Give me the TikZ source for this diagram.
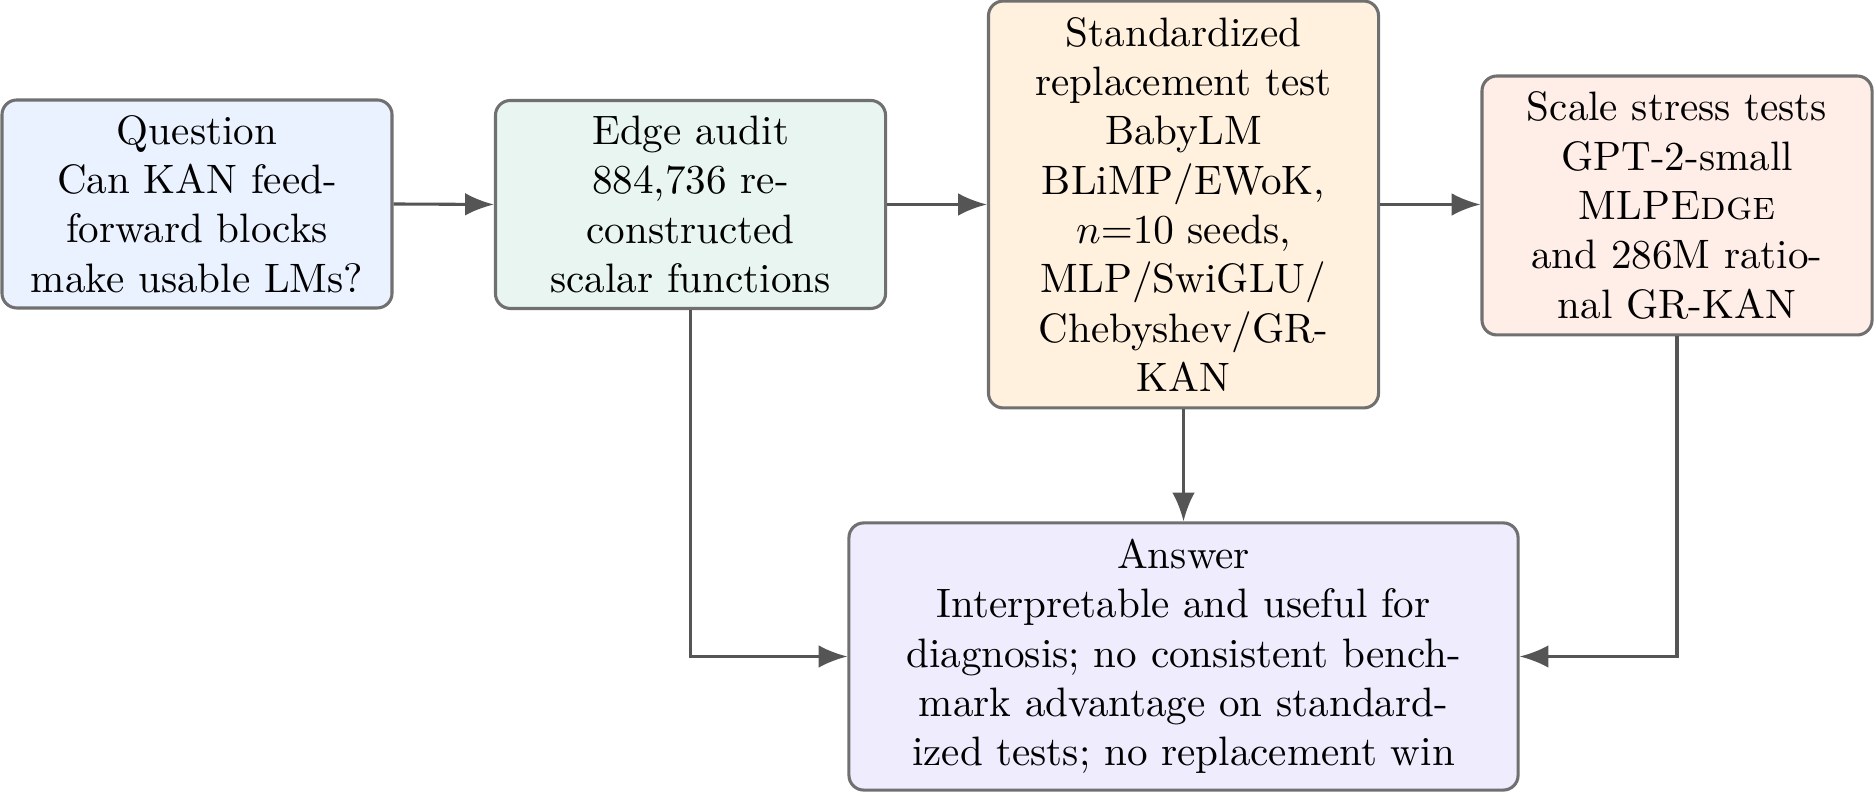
\documentclass[tikz,border=0pt]{standalone}
\usetikzlibrary{arrows.meta}
\definecolor{boxline}{RGB}{112,112,112}
\definecolor{arrowgray}{RGB}{85,85,85}
\definecolor{fq}{RGB}{235,242,255}
\definecolor{fe}{RGB}{232,245,240}
\definecolor{fs}{RGB}{255,241,222}
\definecolor{fc}{RGB}{255,238,232}
\definecolor{fa}{RGB}{238,236,253}
\begin{document}
\begin{tikzpicture}[x=0.2433pt,y=-0.2433pt,
  box/.style={draw=boxline, line width=0.75pt, rounded corners=3.6pt, align=center, inner sep=0pt},
  conn/.style={draw=arrowgray, line width=0.75pt, -{Latex[length=7pt,width=5.5pt]}}]
\useasboundingbox (0,0) rectangle (1874,792);
\node[box, fill=fq, minimum width=94.9pt, minimum height=50.6pt] (q) at (197,204)
  {Question\\Can KAN feed-\\forward blocks\\make usable LMs?};
\node[box, fill=fe, minimum width=94.9pt, minimum height=50.6pt] (edge) at (690.5,204.5)
  {Edge audit\\884,736 re-\\constructed\\scalar functions};
\node[box, fill=fs, minimum width=94.9pt, minimum height=99pt] (std) at (1183.5,204.5)
  {Standardized\\replacement test\\BabyLM\\BLiMP/EWoK,\\$n{=}10$ seeds,\\MLP/SwiGLU/\\Chebyshev/GR-\\KAN};
\node[box, fill=fc, minimum width=94.9pt, minimum height=63pt] (scale) at (1677,205.5)
  {Scale stress tests\\GPT-2-small\\MLP\textsc{Edge}\\and 286M ratio-\\nal GR-KAN};
\node[box, fill=fa, minimum width=162.8pt, minimum height=65pt] (ans) at (1183.5,656.5)
  {Answer\\Interpretable and useful for\\diagnosis; no consistent bench-\\mark advantage on standard-\\ized tests; no replacement win};
\draw[conn] (q.east) -- (edge.west);
\draw[conn] (edge.east) -- (edge.east -| std.west);
\draw[conn] (std.east) -- (std.east -| scale.west);
\draw[conn] (std.south) -- (ans.north);
\draw[conn] (edge.south) |- (ans.west);
\draw[conn] (scale.south) |- (ans.east);
\end{tikzpicture}
\end{document}
